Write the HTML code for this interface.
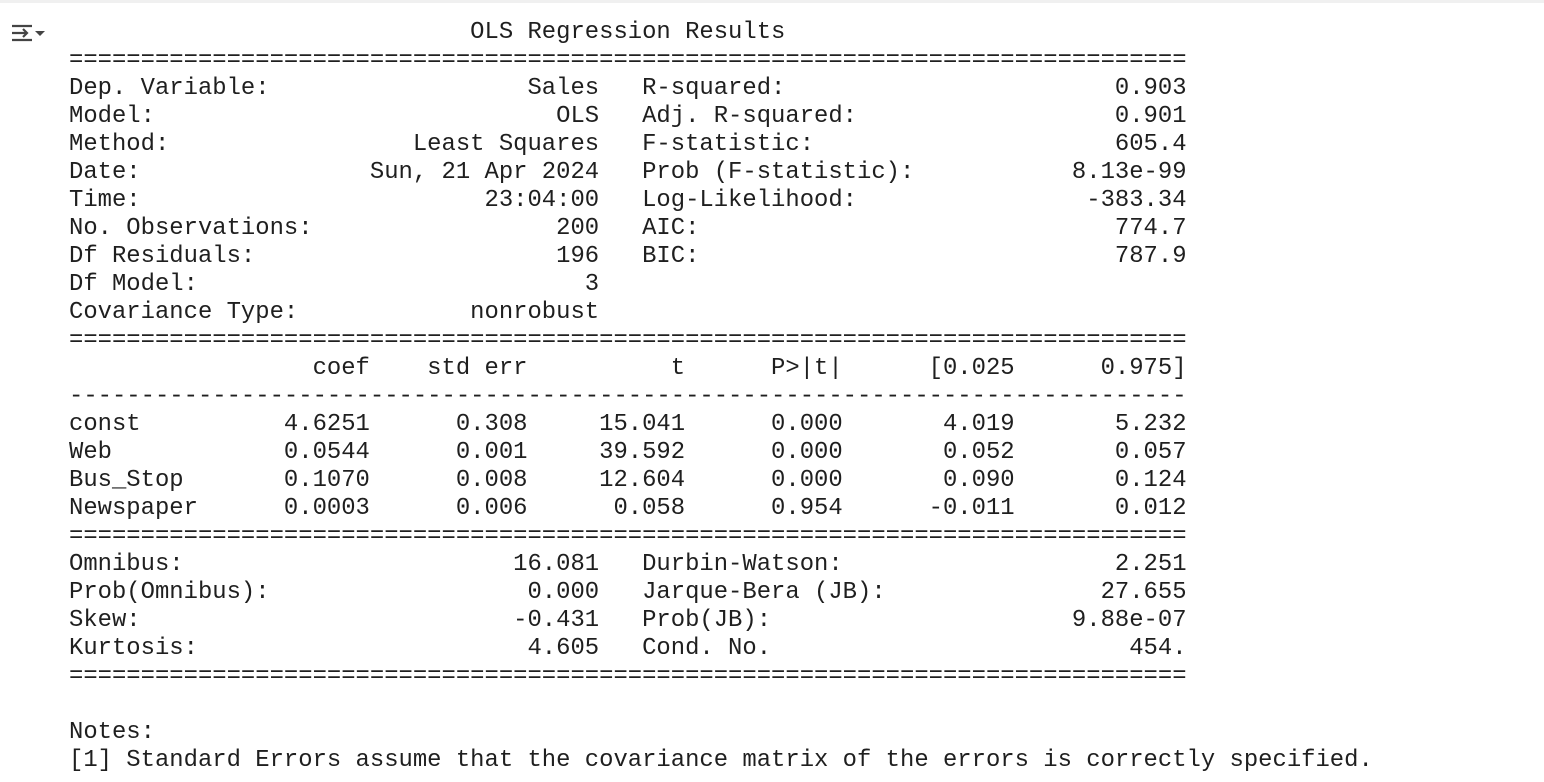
<!DOCTYPE html>
<html><head><meta charset="utf-8">
<style>
html,body{margin:0;padding:0;width:1544px;height:782px;background:#fff;overflow:hidden;}
.topline{position:absolute;left:0;top:0;width:1544px;height:3px;background:#f0f0f0;}
pre{position:absolute;left:69px;top:19px;margin:0;font-family:"Liberation Mono",monospace;font-size:23.88px;line-height:28px;color:#1f1f1f;}
.icon{position:absolute;left:10px;top:20px;width:36px;height:28px;}
</style></head><body>
<div class="topline"></div>
<svg class="icon" viewBox="0 0 36 28">
<path d="M2 6h20M2 13h14M2 20h20" stroke="#444" stroke-width="2.2" fill="none"/>
<path d="M13 9l4 4-4 4" stroke="#444" stroke-width="2.2" fill="none"/>
<path d="M25 11l5 5 5-5z" fill="#444"/>
</svg>
<pre>                            OLS Regression Results
==============================================================================
Dep. Variable:                  Sales   R-squared:                       0.903
Model:                            OLS   Adj. R-squared:                  0.901
Method:                 Least Squares   F-statistic:                     605.4
Date:                Sun, 21 Apr 2024   Prob (F-statistic):           8.13e-99
Time:                        23:04:00   Log-Likelihood:                -383.34
No. Observations:                 200   AIC:                             774.7
Df Residuals:                     196   BIC:                             787.9
Df Model:                           3
Covariance Type:            nonrobust
==============================================================================
                 coef    std err          t      P>|t|      [0.025      0.975]
------------------------------------------------------------------------------
const          4.6251      0.308     15.041      0.000       4.019       5.232
Web            0.0544      0.001     39.592      0.000       0.052       0.057
Bus_Stop       0.1070      0.008     12.604      0.000       0.090       0.124
Newspaper      0.0003      0.006      0.058      0.954      -0.011       0.012
==============================================================================
Omnibus:                       16.081   Durbin-Watson:                   2.251
Prob(Omnibus):                  0.000   Jarque-Bera (JB):               27.655
Skew:                          -0.431   Prob(JB):                     9.88e-07
Kurtosis:                       4.605   Cond. No.                         454.
==============================================================================

Notes:
[1] Standard Errors assume that the covariance matrix of the errors is correctly specified.</pre>
</body></html>
